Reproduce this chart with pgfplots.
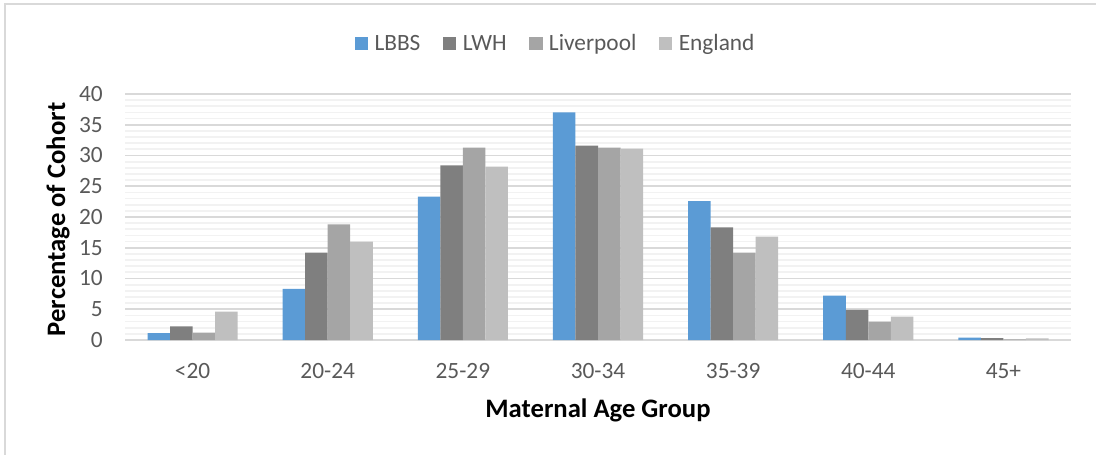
\documentclass[border=0pt]{standalone}
\usepackage{pgfplots}
\pgfplotsset{compat=1.18}
\usepackage{fontspec}
\setmainfont{Carlito}
\definecolor{cLBBS}{HTML}{5B9BD5}
\definecolor{cLWH}{HTML}{7F7F7F}
\definecolor{cLiv}{HTML}{A5A5A5}
\definecolor{cEng}{HTML}{BFBFBF}
\definecolor{txtgray}{HTML}{595959}
\definecolor{majgrid}{HTML}{D9D9D9}
\definecolor{mingrid}{HTML}{F2F2F2}
\begin{document}
\begin{tikzpicture}
  \useasboundingbox (0,0) rectangle (822pt,341.25pt);
  % chart frame (top and left edges only)
  \draw[majgrid, line width=1.4pt] (822pt,338pt) -- (3.75pt,338pt) -- (3.75pt,0pt);
  \begin{axis}[
    at={(93.75pt,86.25pt)}, anchor=south west,
    scale only axis,
    width=709.5pt, height=184.5pt,
    ybar=0pt, bar width=16.9pt,
    xmin=-0.5, xmax=6.5,
    ymin=0, ymax=40,
    xtick={0,...,6},
    xticklabels={<20,20-24,25-29,30-34,35-39,40-44,45+},
    ytick={0,5,...,40},
    minor y tick num=4,
    ymajorgrids, yminorgrids,
    major grid style={majgrid, line width=1.4pt},
    minor grid style={mingrid, line width=1.3pt},
    axis line style={draw=none},
    major tick length=0pt, minor tick length=0pt,
    tick label style={font=\fontsize{17.5pt}{20pt}\selectfont, text=txtgray},
    /pgf/number format/assume math mode=true,
    yticklabel style={inner sep=0pt, anchor=east, xshift=-16.5pt},
    xticklabel style={inner sep=0pt, anchor=base, yshift=-28.5pt},
    xlabel={Maternal Age Group},
    ylabel={Percentage of Cohort},
    label style={font=\fontsize{20pt}{24pt}\selectfont\bfseries, text=black, inner sep=0pt},
    xlabel style={at={(axis description cs:0.5,-0.317)}, anchor=base},
    ylabel style={at={(axis description cs:-0.0634,0.49)}, anchor=base, rotate=0},
    legend columns=4,
    legend style={draw=none, fill=none, inner sep=0pt, outer sep=0pt,
      at={(axis description cs:0.2429,1.205)}, anchor=west,
      font=\fontsize{17.5pt}{20pt}\selectfont, text=txtgray,
      nodes={inner sep=0pt},
      /tikz/every odd column/.append style={column sep=4.8pt},
      /tikz/every even column/.append style={column sep=17pt}},
    legend image code/.code={\fill[#1] (0pt,-5pt) rectangle (10pt,5pt);},
  ]
    \addplot[fill=cLBBS, draw=none] coordinates {
      (0,1.1) (1,8.3) (2,23.3) (3,37.0) (4,22.6) (5,7.2) (6,0.4)};
    \addlegendentry{LBBS}
    \addplot[fill=cLWH, draw=none] coordinates {
      (0,2.2) (1,14.2) (2,28.4) (3,31.6) (4,18.3) (5,4.9) (6,0.3)};
    \addlegendentry{LWH}
    \addplot[fill=cLiv, draw=none] coordinates {
      (0,1.2) (1,18.8) (2,31.3) (3,31.3) (4,14.2) (5,3.0) (6,0.1)};
    \addlegendentry{Liverpool}
    \addplot[fill=cEng, draw=none] coordinates {
      (0,4.6) (1,16.0) (2,28.2) (3,31.1) (4,16.8) (5,3.8) (6,0.25)};
    \addlegendentry{England}
  \end{axis}
\end{tikzpicture}
\end{document}
